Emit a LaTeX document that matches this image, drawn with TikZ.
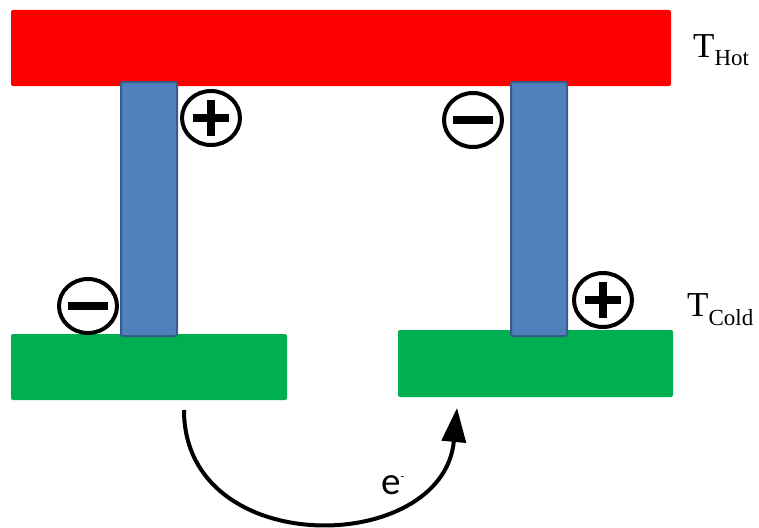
\documentclass[tikz,border=0pt]{standalone}
\usepackage{fontspec}
\setmainfont{Liberation Serif}
\newfontfamily\calibri{Carlito}
\usetikzlibrary{shapes.geometric,arrows.meta}
\definecolor{hotred}{HTML}{FF0000}
\definecolor{coldgreen}{HTML}{00B050}
\definecolor{legblue}{HTML}{4F81BD}
\definecolor{legedge}{HTML}{385D8A}
\tikzset{
  slab/.style={rectangle, anchor=north west, inner sep=0pt, outer sep=0pt, rounded corners=2pt},
  leg/.style={slab, fill=legblue, draw=legedge, line width=2pt},
  charge/.style={ellipse, draw=black, line width=4pt, fill=white, minimum width=58pt, minimum height=54pt, inner sep=0pt},
  signbar/.style={line width=7.5pt, black},
  flow/.style={line width=4pt, -{Triangle[length=34pt,width=24pt]}},
  templabel/.style={anchor=base west, inner sep=0pt, font=\fontsize{35}{40}\selectfont}
}
\begin{document}
\begin{tikzpicture}[x=1pt,y=-1pt]
\useasboundingbox (0,0) rectangle (759,527);
% slabs
\node[slab, fill=hotred, minimum width=660pt, minimum height=76pt] (hot) at (11,10) {};
\node[slab, fill=coldgreen, minimum width=276pt, minimum height=66pt] (gl) at (11,334) {};
\node[slab, fill=coldgreen, minimum width=275pt, minimum height=67pt] (gr) at (398,330) {};
% legs
\node[leg, minimum width=56pt, minimum height=254pt] (bl) at (121,82) {};
\node[leg, minimum width=56pt, minimum height=254pt] (br) at (511,82) {};
% charges
\node[charge] (pl) at (211,118) {};
\node[charge] (ml) at (88,306) {};
\node[charge] (mr) at (473,120) {};
\node[charge] (pr) at (603,300) {};
\draw[signbar] (pl.center) ++(-18,0) -- ++(36,0) (pl.center) ++(0,-18) -- ++(0,36);
\draw[signbar] (pr.center) ++(-18,0) -- ++(36,0) (pr.center) ++(0,-18) -- ++(0,36);
\draw[signbar] (ml.center) ++(-20,0) -- ++(40,0);
\draw[signbar] (mr.center) ++(-20,0) -- ++(40,0);
% labels
\node[templabel] (thot) at (693,57) {T\raisebox{-8pt}{\fontsize{23}{23}\selectfont Hot}};
\node[templabel] (tcold) at (687,316) {T\raisebox{-9pt}{\fontsize{23}{23}\selectfont Cold}};
% electron flow
\coordinate (a1) at (184,410);
\coordinate (a2) at (457,408);
\draw[flow] (a1) .. controls (184,561) and (443,556) .. (a2);
\node[anchor=base west, inner sep=0pt, font=\calibri\fontsize{39}{40}\selectfont] (el) at (381,494) {e\raisebox{14pt}{\fontsize{12}{12}\selectfont -}};
\end{tikzpicture}
\end{document}
